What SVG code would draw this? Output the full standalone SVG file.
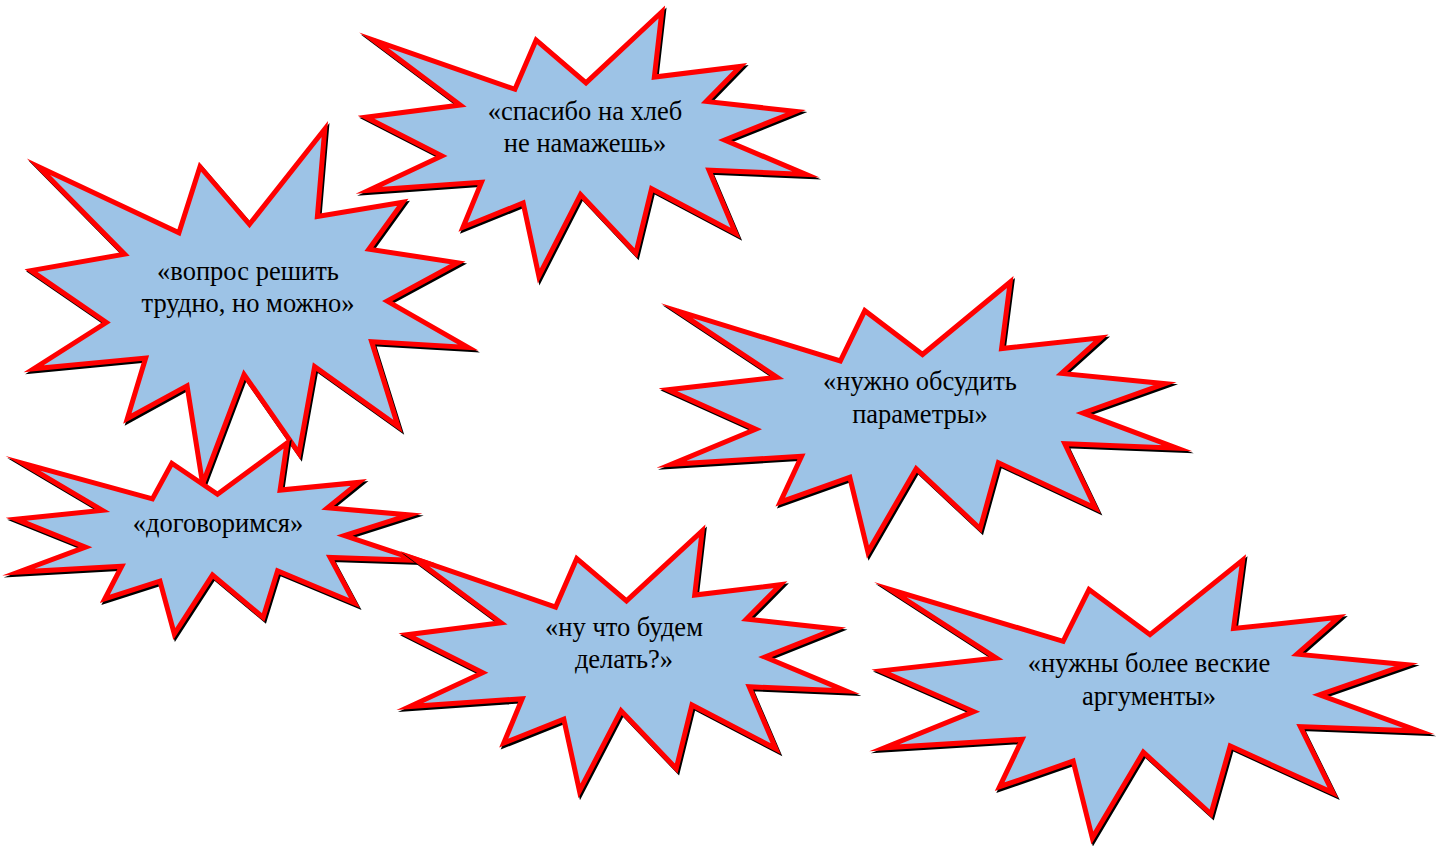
<svg xmlns="http://www.w3.org/2000/svg" xmlns:xlink="http://www.w3.org/1999/xlink" width="1446" height="846" viewBox="0 0 1446 846">
<style>
.seal{fill:#9DC3E6;stroke:#FF0000}
.shadow{fill:#000;stroke:#000}
.lbl{font-family:"Liberation Serif","Times New Roman",serif;font-size:26.5px;fill:#000;text-anchor:middle}
</style>
<defs>
<path id="seal" vector-effect="non-scaling-stroke" stroke-width="5" stroke-linejoin="miter" stroke-miterlimit="8" d="M10800,5800 L14522,0 L14155,5325 L18380,4457 L16702,7315 L21097,8137 L17607,10475 L21600,13290 L16837,12942 L18145,18095 L14020,14457 L13247,19737 L10532,14935 L8485,21600 L7715,15627 L4762,17617 L5667,13937 L135,14587 L3722,11775 L0,8615 L4627,7617 L370,2295 L7312,6320 L8352,2295 Z"/>
</defs>
<rect width="1446" height="846" fill="#fff"/>
<g id="node-spasibo">
<use xlink:href="#seal" class="shadow" transform="translate(367.5,14) scale(0.020370,0.012222)"/>
<use xlink:href="#seal" class="seal" transform="translate(366,12) scale(0.020370,0.012222)"/>
<text class="lbl" x="585" y="120">«спасибо на хлеб</text>
<text class="lbl" x="585" y="152">не намажешь»</text>
</g>
<g id="node-vopros">
<use xlink:href="#seal" class="shadow" transform="translate(32.5,131) scale(0.020231,0.016435)"/>
<use xlink:href="#seal" class="seal" transform="translate(31,129) scale(0.020231,0.016435)"/>
<text class="lbl" x="248" y="280">«вопрос решить</text>
<text class="lbl" x="248" y="312">трудно, но можно»</text>
</g>
<g id="node-dogovorimsya">
<use xlink:href="#seal" class="shadow" transform="translate(17.5,445) scale(0.018657,0.008843)"/>
<use xlink:href="#seal" class="seal" transform="translate(16,443) scale(0.018657,0.008843)"/>
<text class="lbl" x="218" y="532">«договоримся»</text>
</g>
<g id="node-obsudit">
<use xlink:href="#seal" class="shadow" transform="translate(669.5,284) scale(0.023565,0.0125)"/>
<use xlink:href="#seal" class="seal" transform="translate(668,282) scale(0.023565,0.0125)"/>
<text class="lbl" x="920" y="390">«нужно обсудить</text>
<text class="lbl" x="920" y="423">параметры»</text>
</g>
<g id="node-nu-chto">
<use xlink:href="#seal" class="shadow" transform="translate(408.5,533) scale(0.020324,0.012037)"/>
<use xlink:href="#seal" class="seal" transform="translate(407,531) scale(0.020324,0.012037)"/>
<text class="lbl" x="624" y="636">«ну что будем</text>
<text class="lbl" x="624" y="668">делать?»</text>
</g>
<g id="node-argumenty">
<use xlink:href="#seal" class="shadow" transform="translate(882.5,562) scale(0.024907,0.012870)"/>
<use xlink:href="#seal" class="seal" transform="translate(881,560) scale(0.024907,0.012870)"/>
<text class="lbl" x="1149" y="672">«нужны более веские</text>
<text class="lbl" x="1149" y="705">аргументы»</text>
</g>
<g id="connectors"/>
</svg>
